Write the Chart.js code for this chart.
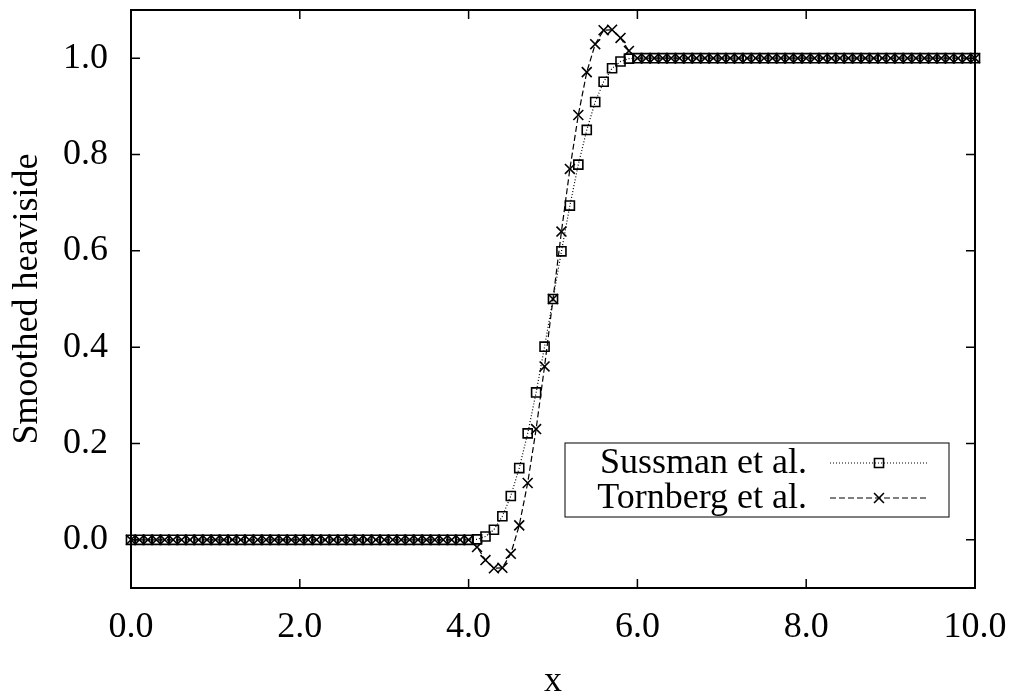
<!DOCTYPE html>
<html>
<head>
<meta charset="utf-8">
<script src="https://cdn.jsdelivr.net/npm/chart.js@4.4.1/dist/chart.umd.min.js"></script>
<style>
  html, body { margin: 0; padding: 0; background: #fff; }
</style>
</head>
<body>
<canvas id="heaviside-chart" width="1014" height="697"></canvas>
<script>
// sample positions along x (every 0.1)
const xValues = [
    0.0, 0.1, 0.2, 0.3, 0.4, 0.5, 0.6, 0.7, 0.8, 0.9,
    1.0, 1.1, 1.2, 1.3, 1.4, 1.5, 1.6, 1.7, 1.8, 1.9,
    2.0, 2.1, 2.2, 2.3, 2.4, 2.5, 2.6, 2.7, 2.8, 2.9,
    3.0, 3.1, 3.2, 3.3, 3.4, 3.5, 3.6, 3.7, 3.8, 3.9,
    4.0, 4.1, 4.2, 4.3, 4.4, 4.5, 4.6, 4.7, 4.8, 4.9,
    5.0, 5.1, 5.2, 5.3, 5.4, 5.5, 5.6, 5.7, 5.8, 5.9,
    6.0, 6.1, 6.2, 6.3, 6.4, 6.5, 6.6, 6.7, 6.8, 6.9,
    7.0, 7.1, 7.2, 7.3, 7.4, 7.5, 7.6, 7.7, 7.8, 7.9,
    8.0, 8.1, 8.2, 8.3, 8.4, 8.5, 8.6, 8.7, 8.8, 8.9,
    9.0, 9.1, 9.2, 9.3, 9.4, 9.5, 9.6, 9.7, 9.8, 9.9,
    10.0
];

const sussman = [
    0, 0, 0, 0, 0, 0, 0, 0, 0, 0,
    0, 0, 0, 0, 0, 0, 0, 0, 0, 0,
    0, 0, 0, 0, 0, 0, 0, 0, 0, 0,
    0, 0, 0, 0, 0, 0, 0, 0, 0, 0,
    0, 0.001, 0.007, 0.021, 0.049, 0.091, 0.149, 0.221, 0.306, 0.401,
    0.5, 0.599, 0.694, 0.779, 0.851, 0.909, 0.951, 0.979, 0.993, 0.999,
    1, 1, 1, 1, 1, 1, 1, 1, 1, 1,
    1, 1, 1, 1, 1, 1, 1, 1, 1, 1,
    1, 1, 1, 1, 1, 1, 1, 1, 1, 1,
    1, 1, 1, 1, 1, 1, 1, 1, 1, 1,
    1
];

const tornberg = [
    0, 0, 0, 0, 0, 0, 0, 0, 0, 0,
    0, 0, 0, 0, 0, 0, 0, 0, 0, 0,
    0, 0, 0, 0, 0, 0, 0, 0, 0, 0,
    0, 0, 0, 0, 0, 0, 0, 0, 0, 0,
    0, -0.015, -0.042, -0.059, -0.058, -0.029, 0.030, 0.118, 0.230, 0.360,
    0.5, 0.640, 0.770, 0.882, 0.971, 1.029, 1.058, 1.059, 1.042, 1.015,
    1, 1, 1, 1, 1, 1, 1, 1, 1, 1,
    1, 1, 1, 1, 1, 1, 1, 1, 1, 1,
    1, 1, 1, 1, 1, 1, 1, 1, 1, 1,
    1, 1, 1, 1, 1, 1, 1, 1, 1, 1,
    1
];

const seriesLabels = ['Sussman et al.', 'Tornberg et al.'];
const xTicks = [0, 2, 4, 6, 8, 10];
const yTicks = [0, 0.2, 0.4, 0.6, 0.8, 1.0];

const serif = { family: 'Liberation Serif', size: 36, lineHeight: 1.0 };

const toPoints = ys => xValues.map((x, i) => ({ x: x, y: ys[i] }));

// stop the scales from reserving room for half-labels at their ends
const noEdgePadding = s => {
    s.paddingTop = 0;
    s.paddingBottom = 0;
    s.paddingLeft = 0;
    s.paddingRight = 0;
};

// gnuplot style border with inward tick marks on all four sides
const framePlugin = {
    id: 'frame',
    beforeDatasetsDraw(chart) {
        const { ctx, chartArea: a, scales: { x, y } } = chart;
        const len = 9;
        ctx.save();
        ctx.strokeStyle = '#000';
        ctx.lineWidth = 1.5;
        ctx.beginPath();
        xTicks.forEach(v => {
            const px = x.getPixelForValue(v);
            ctx.moveTo(px, a.bottom); ctx.lineTo(px, a.bottom - len);
            ctx.moveTo(px, a.top); ctx.lineTo(px, a.top + len);
        });
        yTicks.forEach(v => {
            const py = y.getPixelForValue(v);
            ctx.moveTo(a.left, py); ctx.lineTo(a.left + len, py);
            ctx.moveTo(a.right, py); ctx.lineTo(a.right - len, py);
        });
        ctx.stroke();
        ctx.lineWidth = 2;
        ctx.strokeRect(a.left, a.top, a.right - a.left, a.bottom - a.top);
        ctx.restore();
    }
};

// key box in the lower right, text right aligned, sample line on the right
const keyPlugin = {
    id: 'key',
    afterDraw(chart) {
        const { ctx, chartArea: a } = chart;
        const left = a.right - 410, right = a.right - 26;
        const top = a.bottom - 145, bottom = a.bottom - 71;
        const rows = [top + 20, top + 55];
        ctx.save();
        ctx.strokeStyle = '#000';
        ctx.lineWidth = 1;
        ctx.strokeRect(left, top, right - left, bottom - top);
        ctx.font = '36px "Liberation Serif"';
        ctx.fillStyle = '#000';
        ctx.textAlign = 'right';
        ctx.textBaseline = 'middle';
        chart.data.datasets.forEach((ds, i) => {
            const yy = rows[i];
            ctx.fillText(ds.label, left + 242, yy + 1);
            ctx.beginPath();
            ctx.setLineDash(ds.borderDash);
            ctx.lineWidth = ds.borderWidth;
            ctx.moveTo(left + 265, yy);
            ctx.lineTo(left + 362, yy);
            ctx.stroke();
            ctx.setLineDash([]);
            ctx.fillStyle = 'rgba(0,0,0,0)';
            ctx.lineWidth = ds.pointBorderWidth;
            Chart.helpers.drawPoint(ctx, {
                pointStyle: ds.pointStyle,
                radius: ds.pointRadius,
                rotation: 0,
                borderWidth: ds.pointBorderWidth
            }, left + 314, yy);
            ctx.fillStyle = '#000';
        });
        ctx.restore();
    }
};

new Chart(document.getElementById('heaviside-chart'), {
    type: 'line',
    data: {
        datasets: [{
            label: seriesLabels[0],
            data: toPoints(sussman),
            borderColor: '#000',
            borderWidth: 1.2,
            borderDash: [1, 2],
            pointStyle: 'rect',
            pointRadius: 6.4,
            pointBorderColor: '#000',
            pointBackgroundColor: 'rgba(0,0,0,0)',
            pointBorderWidth: 1.6,
            tension: 0,
            clip: false
        },
        {
            label: seriesLabels[1],
            data: toPoints(tornberg),
            borderColor: '#000',
            borderWidth: 1.2,
            borderDash: [6, 3],
            pointStyle: 'crossRot',
            pointRadius: 7,
            pointBorderColor: '#000',
            pointBackgroundColor: 'rgba(0,0,0,0)',
            pointBorderWidth: 1.6,
            tension: 0,
            clip: false
        }]
    },
    options: {
        responsive: false,
        animation: false,
        devicePixelRatio: 1,
        layout: { padding: { top: 10, right: 39, bottom: 0, left: 0 } },
        plugins: {
            legend: { display: false },
            tooltip: { enabled: false }
        },
        scales: {
            x: {
                type: 'linear',
                min: 0,
                max: 10,
                afterBuildTicks: s => { s.ticks = xTicks.map(v => ({ value: v })); },
                afterFit: s => { s.height = 109; noEdgePadding(s); },
                grid: { display: false, drawTicks: false },
                border: { display: false },
                ticks: {
                    color: '#000',
                    font: serif,
                    padding: 22,
                    maxRotation: 0,
                    callback: v => v.toFixed(1)
                },
                title: {
                    display: true,
                    text: 'x',
                    color: '#000',
                    font: serif,
                    padding: { top: 0, bottom: -3 }
                }
            },
            y: {
                type: 'linear',
                min: -0.1,
                max: 1.1,
                afterBuildTicks: s => { s.ticks = yTicks.map(v => ({ value: v })); },
                afterFit: s => { s.width = 131; noEdgePadding(s); },
                grid: { display: false, drawTicks: false },
                border: { display: false },
                ticks: {
                    color: '#000',
                    font: serif,
                    padding: 23,
                    callback: v => v.toFixed(1)
                },
                title: {
                    display: true,
                    text: 'Smoothed heaviside',
                    color: '#000',
                    font: serif,
                    padding: { top: 10, bottom: 0 }
                }
            }
        }
    },
    plugins: [framePlugin, keyPlugin]
});
</script>
</body>
</html>
